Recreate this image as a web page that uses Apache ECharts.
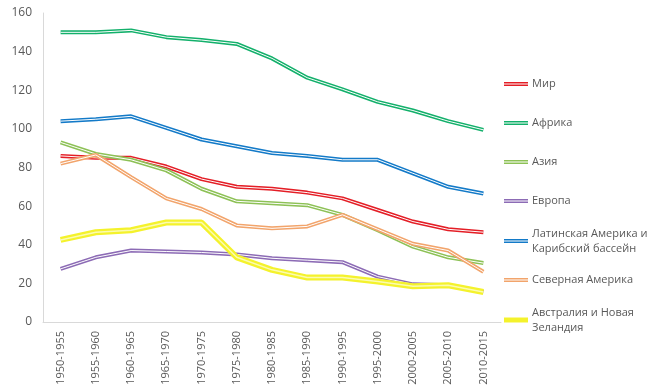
<!DOCTYPE html>
<html><head><meta charset="utf-8">
<script src="https://cdn.jsdelivr.net/npm/echarts@6/dist/echarts.min.js"></script>
<style>html,body{margin:0;padding:0;background:#fff}#c{width:658px;height:388px}</style>
</head><body><div id="c"></div>
<script>
var categories = ['1950-1955','1955-1960','1960-1965','1965-1970','1970-1975','1975-1980','1980-1985','1985-1990','1990-1995','1995-2000','2000-2005','2005-2010','2010-2015'];
var yTicks = [0,20,40,60,80,100,120,140,160];
var names = ['Мир','Африка','Азия','Европа','Латинская Америка и\nКарибский бассейн','Северная Америка','Австралия и Новая\nЗеландия'];
var world      = [86, 85, 85, 80.5, 74, 70, 69, 67, 64, 58, 52, 48, 46.5];
var africa     = [150, 150, 151, 147.5, 146, 144, 136.5, 126.5, 120.5, 114, 109.5, 104, 99.5];
var asia       = [93, 87, 84, 78.5, 69, 62.5, 61.5, 60.5, 55.5, 47.5, 39, 33.5, 30.5];
var europe     = [27.5, 33.5, 37, 36.5, 36, 35, 33, 32, 31, 23.5, 19.5, 19, 15.5];
var latam      = [104, 105, 106.5, 100.5, 94.5, 91, 87.5, 86, 84, 84, 77, 70, 66.5];
var northAm    = [82, 86.5, 75, 64, 58.5, 50, 48.5, 49.5, 55.5, 48, 40.5, 37, 26];
var ausNz      = [42.5, 46.5, 47.5, 51.5, 51.5, 33.5, 27, 23, 23, 21, 18.5, 19, 15.5];
var seriesData = [world, africa, asia, europe, latam, northAm, ausNz];
var colors = ['#e41e26','#13b06b','#8dc156','#8c6bb5','#137ac8','#f2a46b','#f4f22c'];
var widths = [4, 4, 4, 4, 4, 4, 6];
var innerWidths = [1, 1, 1, 1, 1, 1, 1.5];
var innerColors = ['#fff','#fff','#fff','#fff','#fff','#fff','#fbfbb0'];
var legendFirstLineY = [84, 123, 162, 201, 241, 280, 320];
var twoLine = [false, false, false, false, true, false, true];

var series = [];
var legends = [];
var dblIcon = 'path://M0,0H24V1.5H0Z M0,2.5H24V4H0Z';
var solidIcon = 'path://M0,0H24V5H0Z';
for (var i = 0; i < names.length; i++) {
  series.push({
    name: names[i], type: 'line', data: seriesData[i], symbol: 'none',
    lineStyle: {color: colors[i], width: widths[i]}, itemStyle: {color: colors[i]},
    z: 2 + i * 2, animation: false
  });
  series.push({
    name: '_w' + i, type: 'line', data: seriesData[i], symbol: 'none',
    lineStyle: {color: innerColors[i], width: innerWidths[i]},
    z: 3 + i * 2, animation: false, silent: true
  });
  legends.push({
    data: [{name: names[i], icon: i === 6 ? solidIcon : dblIcon}],
    left: 504, top: legendFirstLineY[i] - (twoLine[i] ? 22.5 : 7.5), orient: 'vertical',
    itemWidth: 24, itemHeight: i === 6 ? 5 : 4, itemGap: 0, padding: 0,
    selectedMode: false,
    itemStyle: {borderWidth: 0, color: colors[i]},
    lineStyle: {width: 0.01, opacity: 0},
    textStyle: {color: '#595959', fontSize: 11, fontFamily: 'Open Sans', lineHeight: 15,
                padding: twoLine[i] ? [15, 0, 0, -1] : [0, 0, 0, -1]}
  });
}

var chart = echarts.init(document.getElementById('c'), null, {renderer: 'canvas'});
chart.setOption({
  animation: false,
  backgroundColor: '#fff',
  legend: legends,
  grid: {left: 43, right: 157, top: 13, bottom: 66, containLabel: false},
  xAxis: {
    type: 'category', data: categories, boundaryGap: true,
    axisLine: {lineStyle: {color: '#d9d9d9', width: 1}},
    axisTick: {show: false},
    axisLabel: {rotate: 90, color: '#595959', fontSize: 11, fontFamily: 'Open Sans', margin: 9, interval: 0}
  },
  yAxis: {
    type: 'value', min: yTicks[0], max: yTicks[yTicks.length - 1], interval: 20,
    axisLine: {show: true, lineStyle: {color: '#d9d9d9', width: 1}},
    axisTick: {show: false},
    splitLine: {show: false},
    axisLabel: {color: '#595959', fontSize: 12, fontFamily: 'Open Sans', margin: 11}
  },
  series: series
});
</script></body></html>
